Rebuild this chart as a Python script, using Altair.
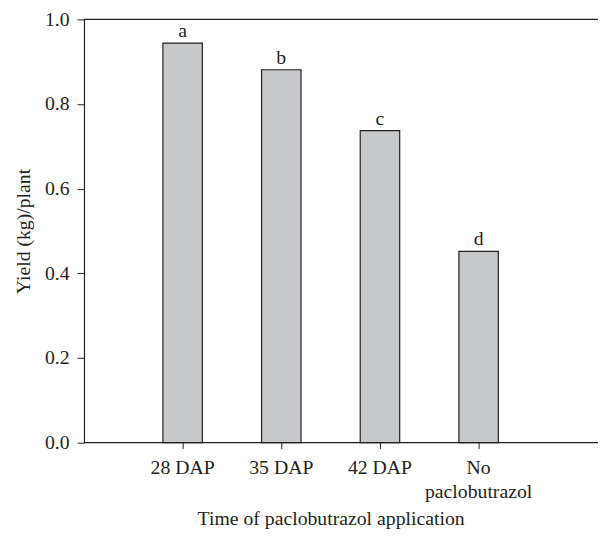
import altair as alt
import pandas as pd

categories = ["28 DAP", "35 DAP", "42 DAP", "No paclobutrazol"]
yields = [0.944, 0.881, 0.737, 0.452]
letters = ["a", "b", "c", "d"]
y_ticks = [0.0, 0.2, 0.4, 0.6, 0.8, 1.0]

df = pd.DataFrame({"cat": categories, "y": yields, "lab": letters})

FONT = "Liberation Serif"
INK = "#231f20"
W, H = 521, 429

x_enc = alt.X(
    "cat:N",
    sort=categories,
    scale=alt.Scale(range=[50, 450], paddingInner=0.6, paddingOuter=0.3),
    axis=alt.Axis(
        title="Time of paclobutrazol application",
        domain=False,
        tickSize=6,
        tickColor=INK,
        tickWidth=1,
        labelAngle=0,
        labelPadding=9,
        labelFont=FONT,
        labelFontSize=20,
        labelColor=INK,
        labelLineHeight=25,
        labelExpr="datum.value == 'No paclobutrazol' ? ['No', 'paclobutrazol'] : datum.value",
        titleFont=FONT,
        titleFontSize=20,
        titleFontWeight="normal",
        titleColor=INK,
        titlePadding=7,
    ),
)

y_enc = alt.Y(
    "y:Q",
    scale=alt.Scale(domain=[0, 1], nice=False),
    axis=alt.Axis(
        title="Yield (kg)/plant",
        values=y_ticks,
        format=".1f",
        grid=False,
        domainColor=INK,
        domainWidth=1.2,
        tickSize=7,
        tickColor=INK,
        tickWidth=1,
        labelPadding=8,
        labelFont=FONT,
        labelFontSize=20,
        labelColor=INK,
        titleFont=FONT,
        titleFontSize=20,
        titleFontWeight="normal",
        titleColor=INK,
        titlePadding=11,
    ),
)

bars = alt.Chart(df).mark_bar(
    fill="#c7c8ca", stroke=INK, strokeWidth=1.2
).encode(x=x_enc, y=y_enc)

text = alt.Chart(df).mark_text(
    font=FONT, fontSize=20, color=INK, baseline="alphabetic", dy=-6
).encode(x=alt.X("cat:N", sort=categories), y="y:Q", text="lab:N")

frame = alt.Chart(pd.DataFrame({"k": [0]})).mark_rule(
    color=INK, strokeWidth=1.2
).encode(x=alt.value(0), x2=alt.value(W), y=alt.value(0))

base = alt.Chart(pd.DataFrame({"k": [0]})).mark_rule(
    color=INK, strokeWidth=1.2
).encode(x=alt.value(0), x2=alt.value(W), y=alt.value(H))

chart = alt.layer(bars, text, frame, base).properties(
    width=W,
    height=H,
    autosize=alt.AutoSizeParams(type="none"),
    padding={"left": 77, "top": 8, "right": 0, "bottom": 87},
).configure_view(stroke=None)

chart.save("out.html", embed_options={"renderer": "svg", "actions": False})
